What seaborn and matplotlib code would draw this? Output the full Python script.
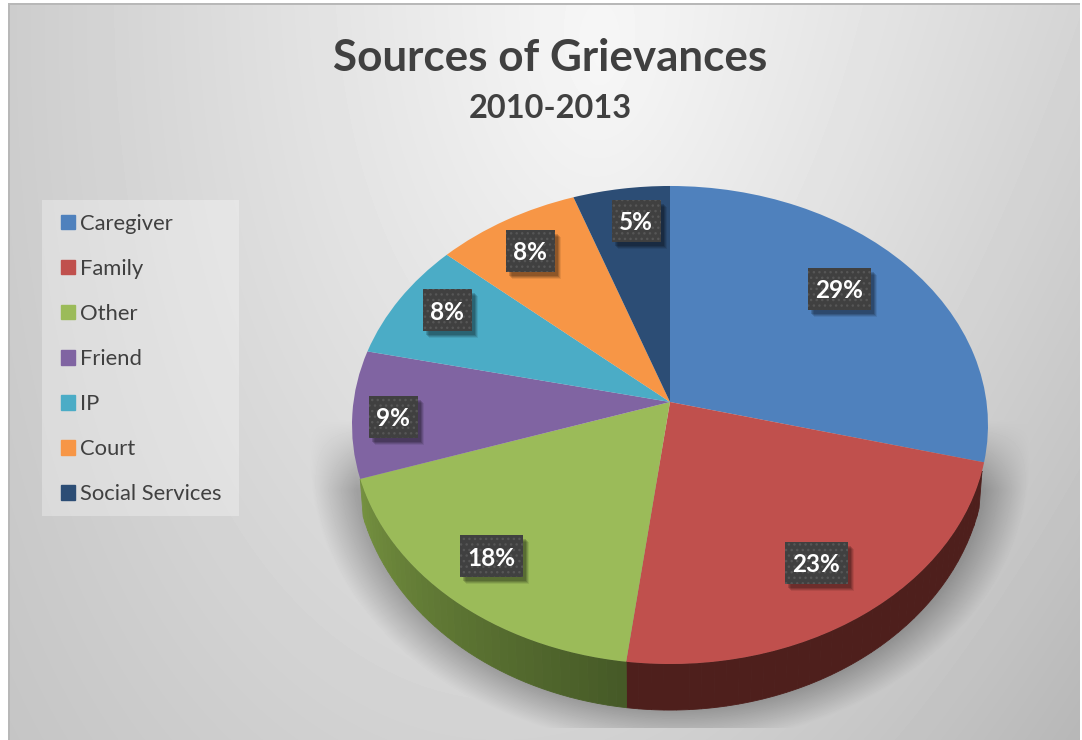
import numpy as np
import seaborn as sns
import matplotlib.pyplot as plt
from matplotlib.colors import to_rgb
from matplotlib.patches import Patch, Rectangle
from matplotlib.path import Path
from matplotlib.transforms import Transform

# data
sources = ['Caregiver', 'Family', 'Other', 'Friend', 'IP', 'Court', 'Social Services']
shares = [29.0, 23.0, 17.9, 8.6, 8.0, 8.1, 5.4]
top_colors = ['#4f81bd', '#c0504d', '#9bbb59', '#8064a2', '#4bacc6', '#f79646', '#2c4d75']
title = 'Sources of Grievances'
subtitle = '2010-2013'

# layout, in pixels of the 1082x740 picture
W, H = 1082, 740
CX, CY = 670, H - 402
R = 318
PERSP = 0.0962
SCALE_X, SCALE_Y = 316.5, 236.8
BASE_SCALE_X, BASE_SCALE_Y, BASE_CY = 313.5, 247.7, H - 436
label_xy = [(839, 289), (816, 563), (491, 556), (393, 417), (447, 310), (530, 251), (636, 221)]
wall_left = ['#3a4a5c', '#4e1f1c', '#74903f', '#4c3d63', '#2d6777', '#945a2a', '#1a2e46']
wall_right = ['#3a4a5c', '#4e1f1c', '#465a27', '#4c3d63', '#2d6777', '#945a2a', '#1a2e46']


def project(xn, yn, sx=SCALE_X, sy=SCALE_Y, cy=CY):
    # perspective view of the unit disc, the near edge comes out bigger
    d = 1 + PERSP * yn
    return CX + sx * xn / d, cy + sy * yn / d


class TiltTransform(Transform):
    input_dims = 2
    output_dims = 2

    def transform_non_affine(self, xy):
        xy = np.asarray(xy, dtype=float)
        x, y = project((xy[:, 0] - CX) / R, (xy[:, 1] - CY) / R)
        return np.column_stack([x, y])

    def transform_path_non_affine(self, path):
        pts = path.to_polygons(closed_only=True)[0]
        return Path(self.transform_non_affine(pts), closed=True)


sns.set_theme(style='white')
plt.rcParams['font.family'] = ['Lato', 'DejaVu Sans']

fig = plt.figure(figsize=(W / 100, H / 100), dpi=100)
ax = fig.add_axes([0, 0, 1, 1])

# background: radial grey + soft shadow under the pie
px, py = np.meshgrid(np.arange(W) + 0.5, np.arange(H) + 0.5)
dist = np.hypot((px - 600) / 600, (py - 60) / 1100)
bg = np.clip(0.97 - 0.17 * dist - 0.08 * (px / W) * (py / H), 0, 1)
rho = np.hypot((px - 670) / 315, (py - 460) / 250)
gap = (rho - 1) * 280
fade = np.clip((py - 420) / 70, 0, 1)
shadow = 0.23 * np.clip(1 - gap / 40, 0, 1) * fade
shadow[py > 728] = 0
bg = bg - shadow
bg[:, :10] = 0.72
bg[:5, :] = 0.72
bg[:, :8] = 1
bg[:3, :] = 1
bg[:, W - 2:] = 1
ax.imshow(bg, cmap='gray', vmin=0, vmax=1, extent=(0, W, 0, H), origin='upper',
          aspect='auto', zorder=0)

# side wall of the pie, only the front part can be seen
edges = 2 * np.pi * np.cumsum([0] + shares) / sum(shares)
for i in range(len(shares)):
    steps = np.linspace(edges[i], edges[i + 1], 41)
    c0, c1 = np.array(to_rgb(wall_left[i])), np.array(to_rgb(wall_right[i]))
    for j in range(len(steps) - 1):
        if max(np.cos(steps[j]), np.cos(steps[j + 1])) > -0.27:
            continue
        if i == 3:
            continue
        t = np.linspace(steps[j], steps[j + 1], 4)
        top_x, top_y = project(np.sin(t), np.cos(t))
        low_x, low_y = project(np.sin(t), np.cos(t), BASE_SCALE_X, BASE_SCALE_Y, BASE_CY)
        f = j / (len(steps) - 2)
        col = c1 * (1 - f) + c0 * f
        ax.fill(np.r_[top_x, low_x[::-1]], np.r_[top_y, low_y[::-1]], color=col,
                lw=0.6, zorder=2)

# top face
wedges, _, pct_texts = ax.pie(shares, colors=top_colors, startangle=90, counterclock=False,
                              center=(CX, CY), radius=R, autopct='%.0f%%',
                              wedgeprops={'linewidth': 0, 'zorder': 3},
                              textprops={'zorder': 8})
tilt = TiltTransform()
for w in wedges:
    w.set_transform(tilt + ax.transData)

ax.set_xlim(0, W)
ax.set_ylim(0, H)
ax.set_aspect('auto')
ax.axis('off')

# value labels
for txt, (lx, ly) in zip(pct_texts, label_xy):
    ly = H - ly
    txt.set_position((lx, ly - 2))
    txt.set(color='white', fontweight='bold', fontsize=17.5, ha='center', va='center')
    bw = 63 if len(txt.get_text()) > 2 else 49
    bh = 42
    for off, a in [(7, 0.08), (6, 0.12), (5, 0.14), (4, 0.16)]:
        ax.add_patch(Rectangle((lx - bw / 2 + off - 1, ly - bh / 2 - off), bw, bh, fc='black',
                               alpha=a, lw=0, zorder=5))
    ax.add_patch(Rectangle((lx - bw / 2, ly - bh / 2), bw, bh, fc='#404040', ec='#565656',
                           hatch='...', lw=0, zorder=6))

# legend
ax.add_patch(Rectangle((42, H - 516), 197, 316, fc='white', alpha=0.3, lw=0, zorder=1))
handles = [Patch(color=c) for c in top_colors]
leg = ax.legend(handles, sources, loc='upper left', bbox_to_anchor=(61, H - 214),
                bbox_transform=ax.transData, frameon=False, fontsize=15.8, labelcolor='#404040',
                handlelength=0.63, handleheight=0.63, handletextpad=0.22,
                labelspacing=1.14, borderpad=0, borderaxespad=0)
leg.set_zorder(4)

ax.text(550, H - 58, title, ha='center', va='center', fontsize=31.7, fontweight='bold',
        color='#404040', zorder=9)
ax.text(550, H - 108, subtitle, ha='center', va='center', fontsize=23.4, fontweight='bold',
        color='#404040', zorder=9)

fig.savefig('out.png', dpi=100)
